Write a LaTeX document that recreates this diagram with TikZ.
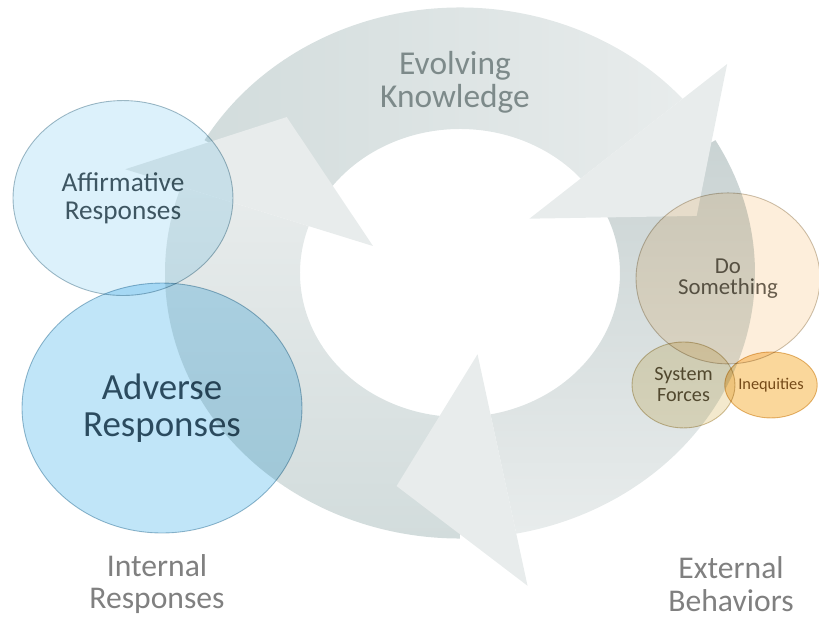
\documentclass[tikz,border=0pt]{standalone}
\usepackage{fontspec}
\setmainfont{Carlito}
\usetikzlibrary{shapes.geometric}

\definecolor{ringdark}{RGB}{210,220,220}
\definecolor{ringlight}{RGB}{232,236,236}
\definecolor{ringtext}{RGB}{125,138,138}
\definecolor{captiongray}{RGB}{128,128,128}
\definecolor{affirmfill}{RGB}{220,241,251}
\definecolor{affirmline}{RGB}{165,188,198}
\definecolor{affirmtext}{RGB}{72,92,100}
\definecolor{adversefill}{RGB}{192,229,248}
\definecolor{adverseline}{RGB}{155,188,204}
\definecolor{adversetext}{RGB}{58,84,98}
\definecolor{dofill}{RGB}{253,238,219}
\definecolor{doline}{RGB}{205,195,178}
\definecolor{dotext}{RGB}{105,100,90}
\definecolor{forcefill}{RGB}{243,233,205}
\definecolor{forceline}{RGB}{210,195,158}
\definecolor{forcetext}{RGB}{100,90,66}
\definecolor{ineqfill}{RGB}{250,215,155}
\definecolor{ineqline}{RGB}{228,188,122}
\definecolor{ineqtext}{RGB}{120,88,40}

\begin{document}
\begin{tikzpicture}[x=0.02cm, y=0.018cm,
        bubble/.style={ellipse, draw, line width=0.5pt, inner sep=0pt, align=center, text opacity=1},
        caption/.style={align=center, text=captiongray, font=\fontsize{18}{18.5}\selectfont}]

        \useasboundingbox (-460,-387.8) rectangle (359,303.3);

        % ring: radii 160 (inner) and 295 (outer), heads reach 92..354
        % bodies first, the heads have to lie over the next tail
        \shade[left color=ringdark, right color=ringlight]
            (150:295) arc[start angle=150, end angle=41, radius=295]
            -- (41:160) arc[start angle=41, end angle=150, radius=160] -- cycle;
        \shade[top color=ringdark!96!black, bottom color=ringlight]
            (30:295) arc[start angle=30, end angle=-79, radius=295]
            -- (-79:160) arc[start angle=-79, end angle=30, radius=160] -- cycle;
        \shade[bottom color=ringdark, top color=ringlight]
            (-90:295) arc[start angle=-90, end angle=-199, radius=295]
            -- (-199:160) arc[start angle=-199, end angle=-90, radius=160] -- cycle;

        \begin{scope}[ringlight]
            \fill (41:354) -- (15:245) -- (41:92) -- cycle;
            \fill (-79:354) -- (-105:245) -- (-79:92) -- cycle;
            \fill (161:354) -- (135:245) -- (161:92) -- cycle;
        \end{scope}

        \node[text=ringtext, align=center, font=\fontsize{19}{19}\selectfont] (know) at (-5,212) {Evolving\\Knowledge};

        \begin{scope}[blend mode=multiply]
            \node[bubble, fill=affirmfill, draw=affirmline, text=affirmtext,
                minimum width=4.4cm, minimum height=3.9cm,
                font=\fontsize{15.5}{16}\selectfont] (aff) at (-337,83.3) {Affirmative\\Responses};
            \node[bubble, fill=adversefill, draw=adverseline, text=adversetext,
                minimum width=5.6cm, minimum height=5cm,
                font=\fontsize{21}{21}\selectfont] (adv) at (-298,-150) {Adverse\\Responses};
            \node[bubble, fill=dofill, draw=doline, text=dotext,
                minimum width=3.68cm, minimum height=3.42cm,
                font=\fontsize{13}{12}\selectfont] (do) at (268,-6) {Do\\Something};
            \node[bubble, fill=forcefill, draw=forceline, text=forcetext,
                minimum width=2.06cm, minimum height=1.72cm,
                font=\fontsize{11.5}{12}\selectfont] (sys) at (223.5,-124.4) {System\\Forces};
            \node[bubble, fill=ineqfill, draw=ineqline, text=ineqtext,
                minimum width=1.56cm, minimum height=1.32cm,
                font=\fontsize{9.3}{10}\selectfont] (ineq) at (311,-124.4) {Inequities};
        \end{scope}

        \node[caption] (inner) at (-303,-345.6) {Internal\\Responses};
        \node[caption] (outer) at (271,-345.6) {External\\Behaviors};

    \end{tikzpicture}
\end{document}
